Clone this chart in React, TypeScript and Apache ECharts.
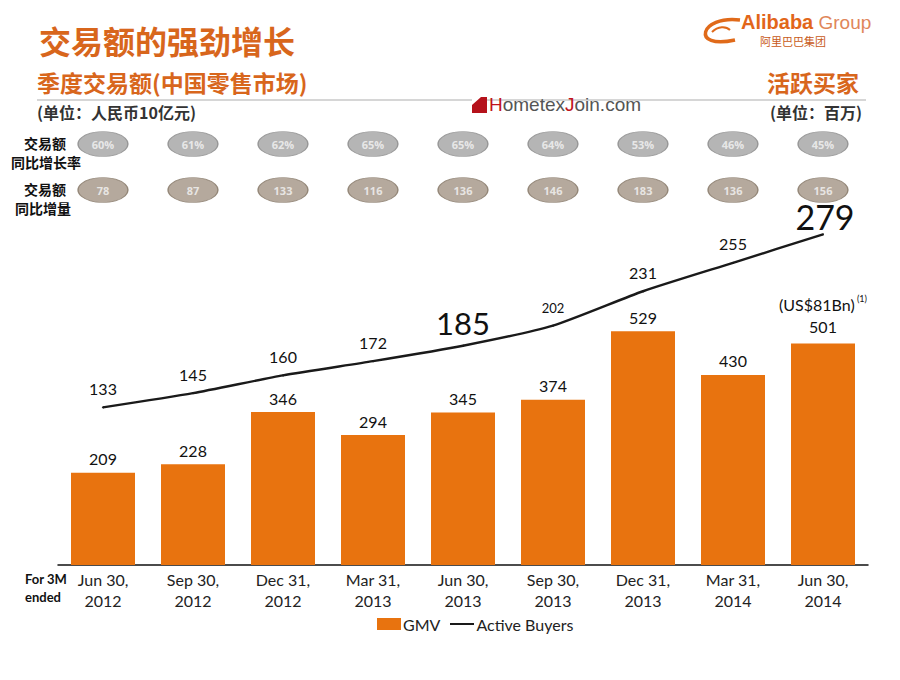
import React, { useEffect, useRef } from "react";
import * as echarts from "echarts";

const categories = [
  "Jun 30,\n2012", "Sep 30,\n2012", "Dec 31,\n2012", "Mar 31,\n2013", "Jun 30,\n2013",
  "Sep 30,\n2013", "Dec 31,\n2013", "Mar 31,\n2014", "Jun 30,\n2014",
];
const gmv = [209, 228, 346, 294, 345, 374, 529, 430, 501];
const activeBuyers = [133, 145, 160, 172, 185, 202, 231, 255, 279];
const yoyGrowth = ["60%", "61%", "62%", "65%", "65%", "64%", "53%", "46%", "45%"];
const yoyIncrease = [78, 87, 133, 116, 136, 146, 183, 136, 156];

const ORANGE = "#E8730F";
const TITLE_ORANGE = "#D8661C";
const LINE_COLOR = "#1a1a1a";
const LATIN = "Lato, 'Open Sans', sans-serif";
const CJK = "'Noto Sans CJK SC', sans-serif";

export default function App() {
  const ref = useRef<HTMLDivElement>(null);
  useEffect(() => {
    if (!ref.current) return;
    const chart = echarts.init(ref.current, null, { renderer: "svg" });

    const lineData = activeBuyers.map((v, i) => {
      if (i === 4) return { value: v, label: { fontSize: 31, distance: 6 } };
      if (i === 8) return { value: v, label: { fontSize: 34, distance: 0, offset: [2, 0] } };
      if (i === 5) return { value: v, label: { fontSize: 13, distance: 10 } };
      return v;
    });
    const barData = gmv.map((v, i) => {
      if (i === 8)
        return {
          value: v,
          label: {
            formatter: "{a|(US$81Bn)}{s| (1)}\n{a|" + v + "}",
            rich: {
              a: { fontSize: 16, fontFamily: LATIN, color: "#111", lineHeight: 22 },
              s: { fontSize: 9, fontFamily: LATIN, color: "#111", verticalAlign: "top", padding: [0, 0, 8, 0] },
            },
          },
        };
      return v;
    });

    const bubbleLabel = {
      show: true,
      position: "inside",
      fontFamily: "'Open Sans', sans-serif",
      fontSize: 11,
      fontWeight: "bold",
      color: "#f6f6f6",
    };

    const sideText = (x: number, y: number, t: string) => ({
      type: "text",
      x,
      y,
      style: { text: t, font: "bold 14px " + CJK, fill: "#111", align: "center", verticalAlign: "middle" },
    });

    chart.setOption({
      animation: false,
      backgroundColor: "#ffffff",
      grid: [
        { left: 58, width: 810, top: 200, height: 365 },
        { left: 58, width: 810, top: 121, height: 92 },
      ],
      xAxis: [
        {
          type: "category",
          gridIndex: 0,
          data: categories,
          axisLine: { lineStyle: { color: "#111", width: 1.5 } },
          axisTick: { show: false },
          axisLabel: { fontFamily: LATIN, fontSize: 16, color: "#222", lineHeight: 21, margin: 4 },
        },
        { type: "category", gridIndex: 1, data: categories, show: false },
      ],
      yAxis: [
        { type: "value", gridIndex: 0, min: 0, max: 826, show: false, splitLine: { show: false } },
        { type: "value", gridIndex: 0, min: 0, max: 308, show: false, splitLine: { show: false } },
        { type: "value", gridIndex: 1, min: 0, max: 2, show: false, splitLine: { show: false } },
      ],
      legend: {
        left: 372,
        top: 611,
        itemWidth: 24,
        itemHeight: 12,
        itemGap: 10,
        textStyle: { fontFamily: LATIN, fontSize: 16, color: "#222", padding: [0, 0, 0, -3] },
        data: [
          { name: "GMV", icon: "rect" },
          { name: "Active Buyers", icon: "none" },
        ],
      },
      series: [
        {
          name: "GMV",
          type: "bar",
          xAxisIndex: 0,
          yAxisIndex: 0,
          data: barData,
          barWidth: 64,
          itemStyle: { color: ORANGE },
          label: { show: true, position: "top", distance: 6, fontFamily: LATIN, fontSize: 16, color: "#111" },
        },
        {
          name: "Active Buyers",
          type: "line",
          xAxisIndex: 0,
          yAxisIndex: 1,
          data: lineData,
          symbol: "circle",
          symbolSize: 2,
          showSymbol: true,
          smooth: 0.2,
          lineStyle: { color: LINE_COLOR, width: 2.4 },
          itemStyle: { color: LINE_COLOR },
          label: { show: true, position: "top", distance: 10, fontFamily: LATIN, fontSize: 16, color: "#111" },
        },
        {
          name: "yoy",
          type: "scatter",
          xAxisIndex: 1,
          yAxisIndex: 2,
          data: yoyGrowth.map((t, i) => ({ value: [i, 1.5], label: { formatter: t } })),
          symbol: "circle",
          symbolSize: [50, 25],
          itemStyle: { color: "#A3A3A3", borderColor: "#8a8a8a", borderWidth: 1 },
          label: bubbleLabel,
        },
        {
          name: "inc",
          type: "scatter",
          xAxisIndex: 1,
          yAxisIndex: 2,
          data: yoyIncrease.map((v, i) => ({ value: [i, 0.5], label: { formatter: String(v) } })),
          symbol: "circle",
          symbolSize: [50, 25],
          itemStyle: { color: "#A29484", borderColor: "#857767", borderWidth: 1 },
          label: bubbleLabel,
        },
      ],
      graphic: [
        { type: "text", left: 39, top: 24, style: { text: "交易额的强劲增长", font: "bold 32px " + CJK, fill: TITLE_ORANGE } },
        { type: "text", left: 37, top: 70, style: { text: "季度交易额(中国零售市场)", font: "bold 23px " + CJK, fill: TITLE_ORANGE } },
        { type: "text", right: 41, top: 70, style: { text: "活跃买家", font: "bold 23px " + CJK, fill: TITLE_ORANGE } },
        { type: "line", shape: { x1: 37, y1: 100, x2: 866, y2: 100 }, style: { stroke: "#d6d6d6", lineWidth: 2 } },
        { type: "text", left: 37, top: 104, style: { text: "(单位：人民币10亿元)", font: "bold 16px " + CJK, fill: "#333" } },
        { type: "text", right: 38, top: 104, style: { text: "(单位：百万)", font: "bold 16px " + CJK, fill: "#333" } },
        sideText(45, 143, "交易额"),
        sideText(46, 162, "同比增长率"),
        sideText(45, 189, "交易额"),
        sideText(43, 208, "同比增量"),
        { type: "text", x: 25, y: 570, style: { text: "For 3M\nended", font: "bold 13px " + LATIN, fill: "#111", lineHeight: 18 } },
        // Legend line icon for Active Buyers
        { type: "line", shape: { x1: 450, y1: 624, x2: 474, y2: 624 }, style: { stroke: LINE_COLOR, lineWidth: 2 } },
        // HometexJoin mark
        { type: "rect", shape: { x: 472, y: 97, width: 15, height: 16 }, style: { fill: "#B5121B" } },
        { type: "polygon", shape: { points: [[472, 97], [481, 97], [472, 105]] }, style: { fill: "#ffffff" } },
        {
          type: "text",
          left: 489,
          top: 95,
          style: {
            text: "{r|H}{g|ometex}{r|J}{g|oin.com}",
            rich: {
              r: { fill: "#C0141C", font: "19px 'Liberation Sans', Arial, sans-serif" },
              g: { fill: "#555", font: "19px 'Liberation Sans', Arial, sans-serif" },
            },
          },
        },
        // Alibaba Group logo
        {
          type: "bezierCurve",
          shape: { x1: 740, y1: 20, cpx1: 700, cpy1: 15, cpx2: 690, cpy2: 50, x2: 735, y2: 40 },
          style: { stroke: "#E06A1A", lineWidth: 3.5, fill: null },
        },
        {
          type: "bezierCurve",
          shape: { x1: 712, y1: 32, cpx1: 718, cpy1: 26, cpx2: 726, cpy2: 26, x2: 730, y2: 30 },
          style: { stroke: "#E06A1A", lineWidth: 2, fill: null },
        },
        {
          type: "text",
          left: 741,
          top: 12,
          style: {
            text: "{a|Alibaba}{b| Group}",
            rich: {
              a: { fill: "#E2661A", font: "bold 20px 'Liberation Sans', Arial, sans-serif" },
              b: { fill: "#E0865A", font: "19px 'Liberation Sans', Arial, sans-serif" },
            },
          },
        },
        { type: "text", left: 760, top: 35, style: { text: "阿里巴巴集团", font: "11px " + CJK, fill: "#C85A20" } },
      ],
    });
    return () => chart.dispose();
  }, []);
  return <div ref={ref} style={{ width: 900, height: 680, margin: -8 }} />;
}
